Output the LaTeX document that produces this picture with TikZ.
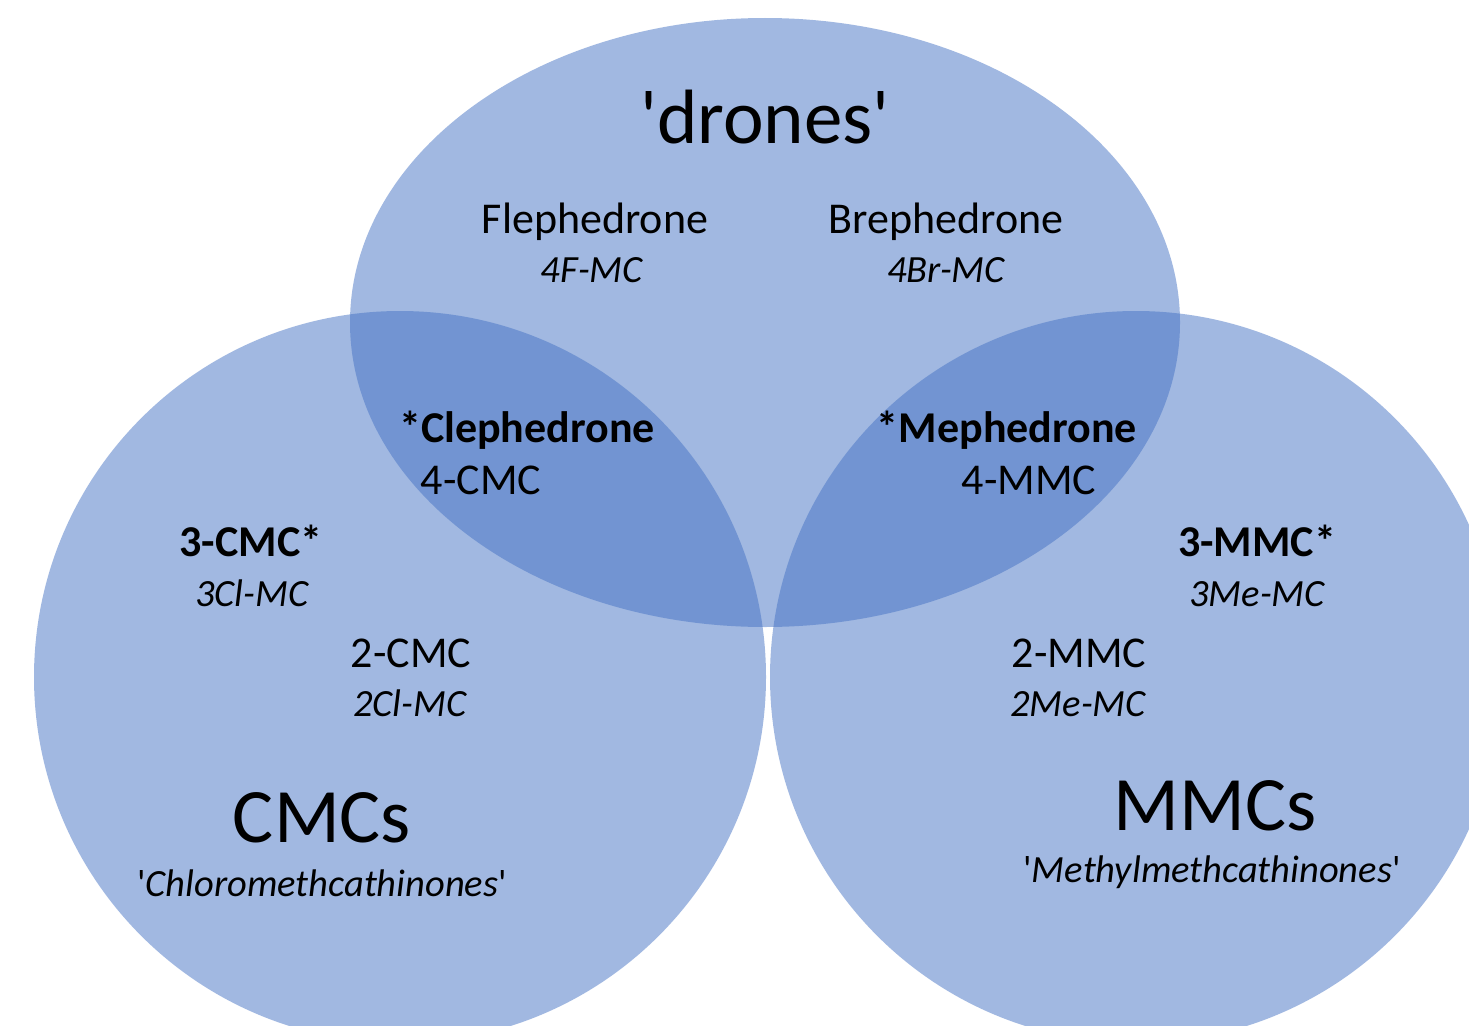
\documentclass[tikz,border=0pt]{standalone}
\usepackage{fontspec}
\setmainfont{Carlito}[Ligatures=TeXOff]
\definecolor{vennblue}{HTML}{4472C4}
\tikzset{
  setshape/.style={fill=vennblue, fill opacity=0.5, draw=none},
  lbl/.style={anchor=base, inner sep=0pt, text=black},
  regtxt/.style={lbl, font=\fontsize{44}{50}\selectfont},
  boldtxt/.style={lbl, font=\fontsize{44}{50}\selectfont\bfseries},
  ittxt/.style={lbl, font=\fontsize{38.5}{44}\selectfont\itshape},
  bigtxt/.style={lbl, font=\fontsize{77}{85}\selectfont}
}
\begin{document}
\begin{tikzpicture}[x=1pt,y=-1pt]
\useasboundingbox (0,0) rectangle (1469,1025);
\clip (0,0) rectangle (1469,1025);
\fill[white] (0,0) rectangle (1469,1025);
% sets
\fill[setshape] (765,322.5) ellipse [x radius=415, y radius=304.5];
\fill[setshape] (400,677) circle [radius=366];
\fill[setshape] (1136,677) circle [radius=366];
% drones
\node[bigtxt] (drones) at (765,143) {'drones'};
\node[regtxt] (fleph) at (595,233) {Flephedrone};
\node[ittxt] (fleph2) at (592,282) {4F-MC};
\node[regtxt] (breph) at (946,233) {Brephedrone};
\node[ittxt] (breph2) at (946,282) {4Br-MC};
% overlaps
\node[boldtxt] (cleph) at (527,442) {*Clephedrone};
\node[regtxt] (cleph2) at (481,494) {4-CMC};
\node[boldtxt] (meph) at (1007,442) {*Mephedrone};
\node[regtxt] (meph2) at (1029,494) {4-MMC};
% CMCs
\node[boldtxt] (cmc3) at (251,556) {3-CMC*};
\node[ittxt] (cmc3b) at (252,606) {3Cl-MC};
\node[regtxt] (cmc2) at (411,667) {2-CMC};
\node[ittxt] (cmc2b) at (410,716) {2Cl-MC};
\node[bigtxt] (cmcs) at (322,842) {CMCs};
\node[ittxt] (cmcsb) at (322,896) {\upshape'\itshape Chloromethcathinones\upshape'};
% MMCs
\node[boldtxt] (mmc3) at (1257,556) {3-MMC*};
\node[ittxt] (mmc3b) at (1257,606) {3Me-MC};
\node[regtxt] (mmc2) at (1079,667) {2-MMC};
\node[ittxt] (mmc2b) at (1078,716) {2Me-MC};
\node[bigtxt] (mmcs) at (1215,830) {MMCs};
\node[ittxt] (mmcsb) at (1212,882) {\upshape'\itshape Methylmethcathinones\upshape'};
\end{tikzpicture}
\end{document}
